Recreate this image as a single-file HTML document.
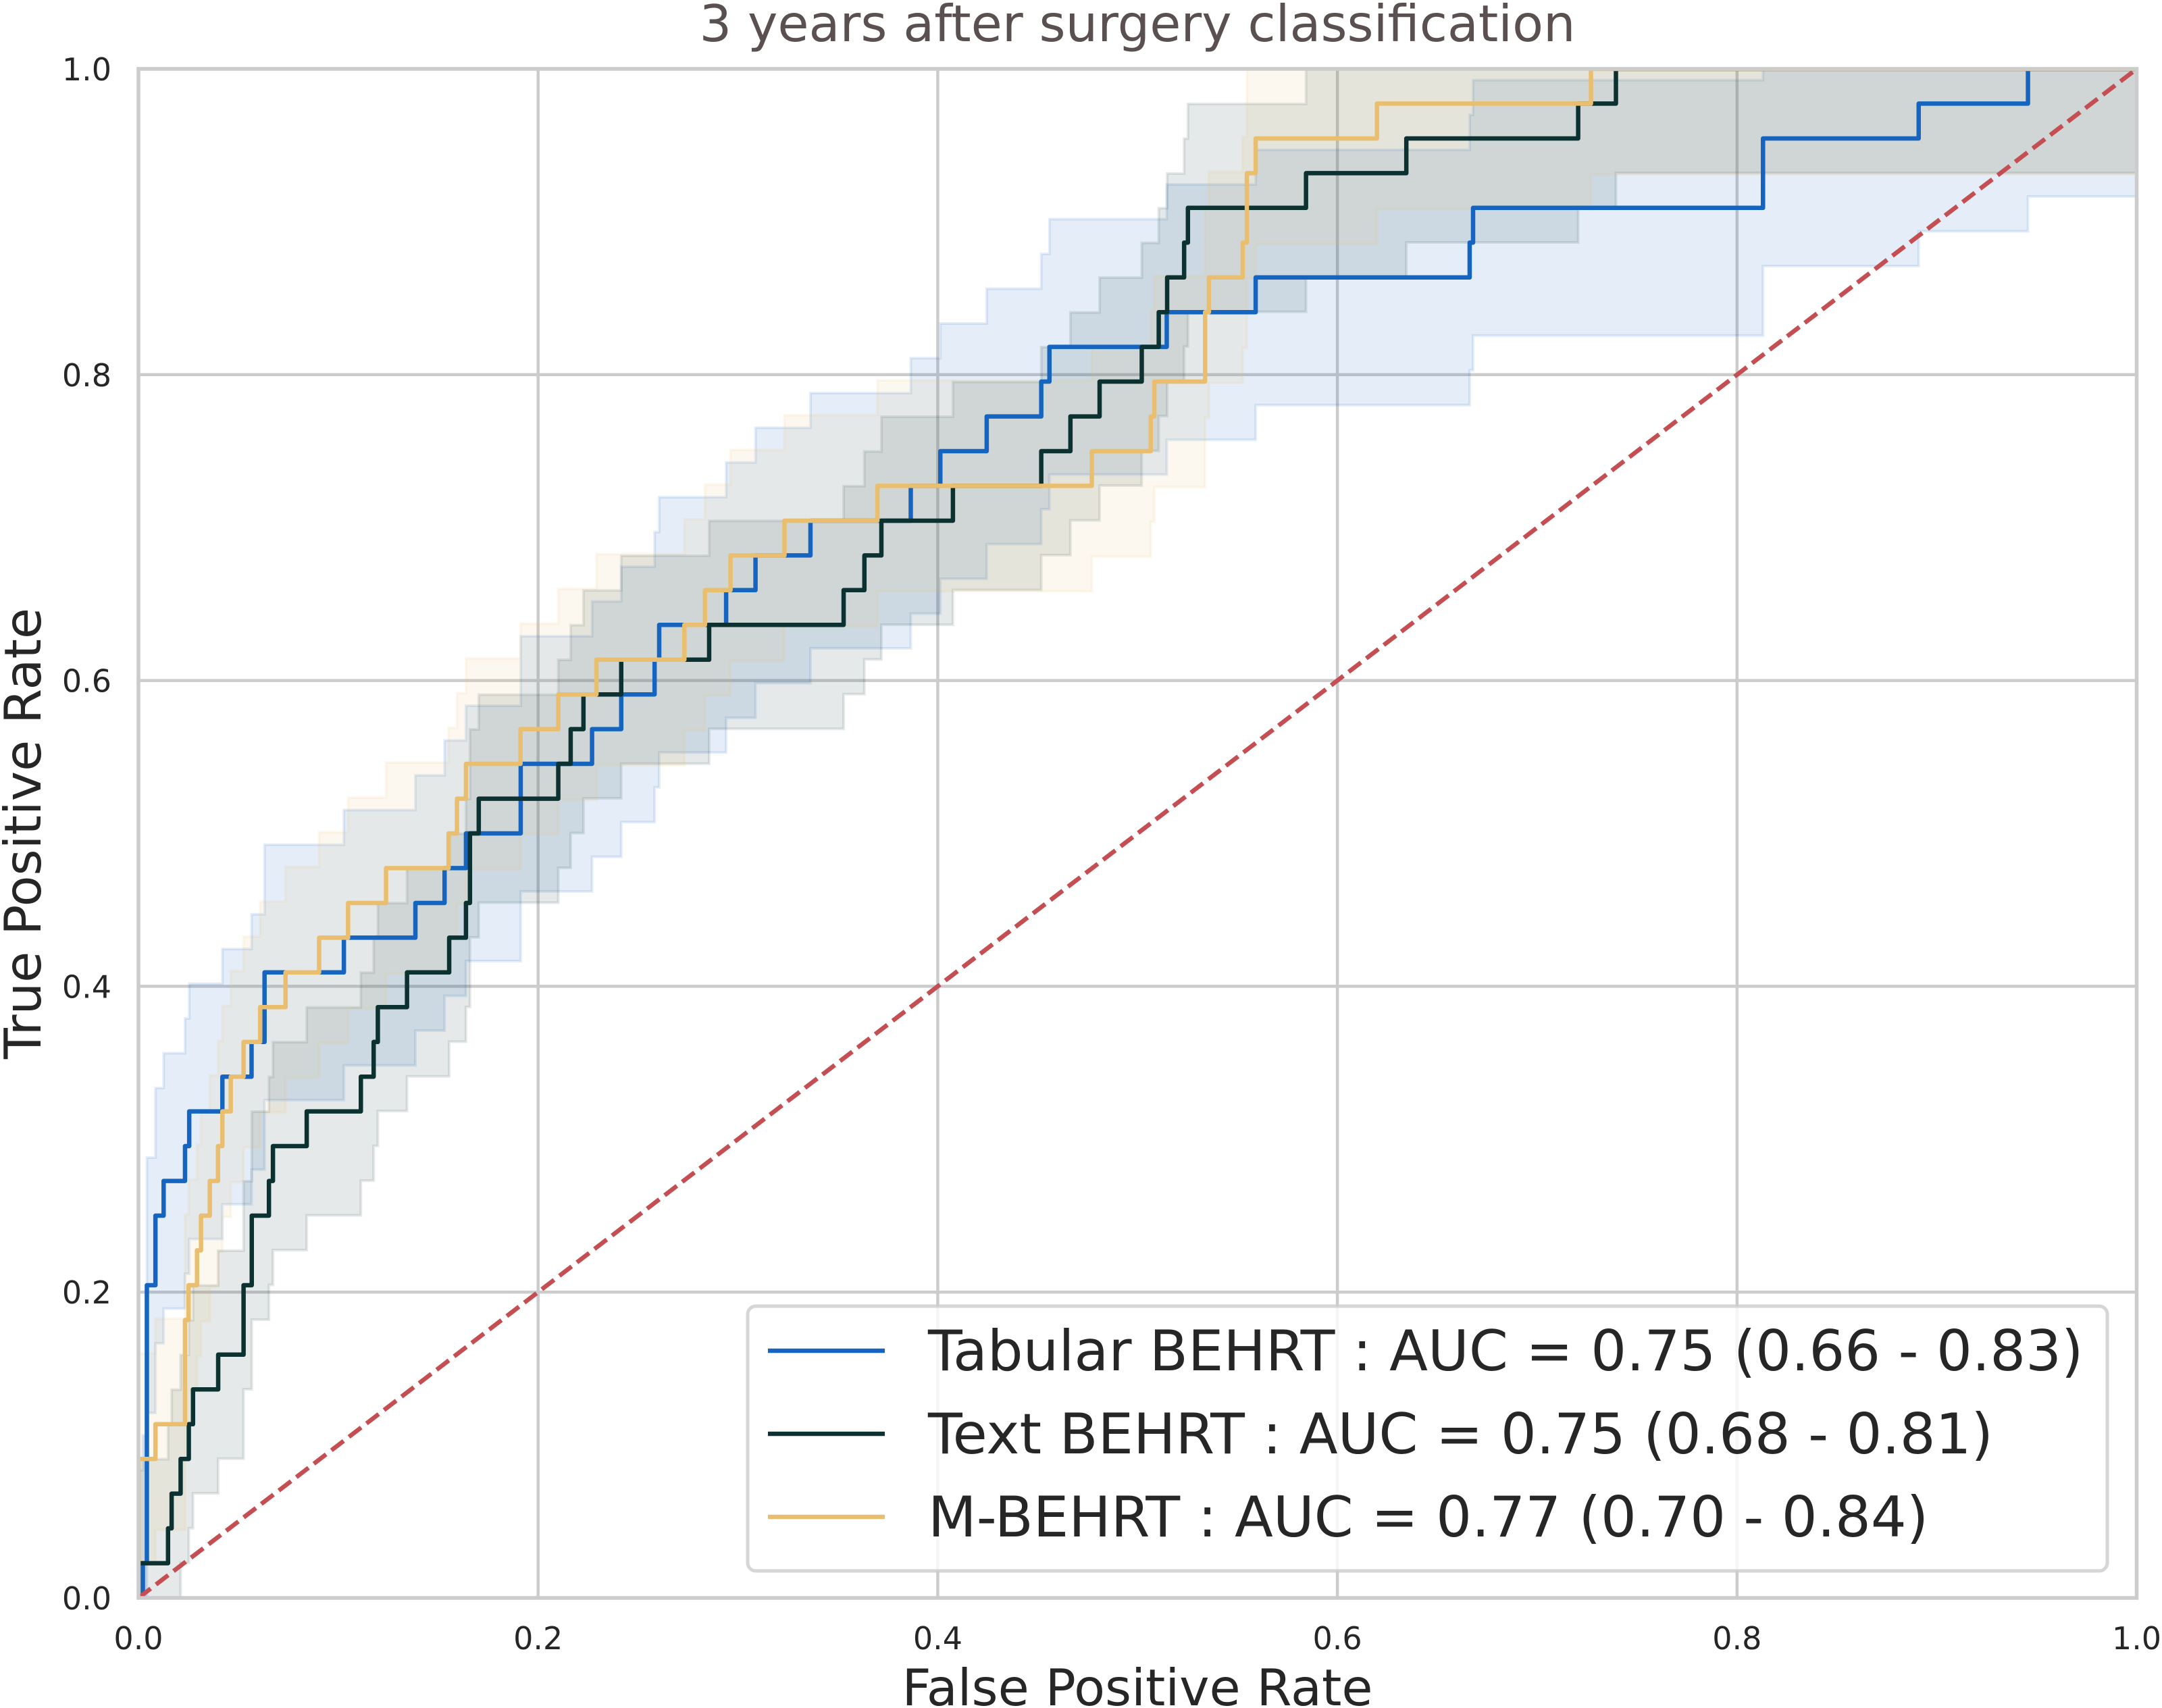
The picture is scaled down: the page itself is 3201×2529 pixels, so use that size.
<!DOCTYPE html>
<html lang="en">
<head>
<meta charset="utf-8">
<title>3 years after surgery classification</title>
<style>
html,body{margin:0;padding:0;background:#fff;}
svg{display:block;font-family:"DejaVu Sans","Liberation Sans",sans-serif;}
</style>
</head>
<body>
<svg id="chart" xmlns="http://www.w3.org/2000/svg" width="3201" height="2529" viewBox="0 0 3201 2529">
  <defs>
    <clipPath id="plot-clip"><rect x="205" y="102" width="2958.5" height="2264"/></clipPath>
  </defs>
  <rect x="0" y="0" width="3201" height="2529" fill="#ffffff"/>
  <text x="1684" y="61" text-anchor="middle" font-size="75" fill="#5a5050">3 years after surgery classification</text>
  <g id="grid-layer"></g>
  <g id="band-layer" clip-path="url(#plot-clip)"></g>
  <g id="line-layer" clip-path="url(#plot-clip)"></g>
  <g id="spine-layer">
    <rect x="205" y="102" width="2958.5" height="2264" fill="none" stroke="#cccccc" stroke-width="5.5"/>
  </g>
  <g id="tick-layer"></g>
  <text x="1684" y="2525" text-anchor="middle" font-size="75" fill="#262626">False Positive Rate</text>
  <text transform="translate(60 1234) rotate(-90)" text-anchor="middle" font-size="75" fill="#262626">True Positive Rate</text>
  <g>
    <rect x="1107" y="1934" width="2013" height="392" rx="12" ry="12" fill="#ffffff" fill-opacity="0.8" stroke="#cccccc" stroke-opacity="0.8" stroke-width="5"/>
    <line x1="1137" y1="2000" x2="1310" y2="2000" stroke="#1565c0" stroke-width="6.5"/>
    <text x="1374" y="2029" font-size="83.1" fill="#262626">Tabular BEHRT : AUC = 0.75 (0.66 - 0.83)</text>
    <line x1="1137" y1="2123" x2="1310" y2="2123" stroke="#0b3130" stroke-width="6.5"/>
    <text x="1374" y="2152" font-size="83.1" fill="#262626">Text BEHRT : AUC = 0.75 (0.68 - 0.81)</text>
    <line x1="1137" y1="2246" x2="1310" y2="2246" stroke="#e9bf6f" stroke-width="6.5"/>
    <text x="1374" y="2275" font-size="83.1" fill="#262626">M-BEHRT : AUC = 0.77 (0.70 - 0.84)</text>
  </g>
</svg>
<script>
const xTicks = [0, 0.2, 0.4, 0.6, 0.8, 1.0];
const yTicks = [0, 0.2, 0.4, 0.6, 0.8, 1.0];
const chanceFpr = [0, 1];
const chanceTpr = [0, 1];

const tabularFpr = [0,0.0022,0.0042,0.0085,0.0126,0.0233,0.0254,0.042,0.0566,0.0631,0.1028,0.1386,0.1532,0.1639,0.1913,0.227,0.2416,0.2583,0.2606,0.2941,0.3088,0.3363,0.3865,0.4013,0.4245,0.4518,0.4559,0.5146,0.5591,0.6662,0.6679,0.813,0.8909,0.9456,1];
const tabularTpr = [0,0.0227,0.2045,0.25,0.2727,0.2955,0.3182,0.3409,0.3636,0.4091,0.4318,0.4545,0.4773,0.5,0.5455,0.5682,0.5909,0.6136,0.6364,0.6591,0.6818,0.7045,0.7273,0.75,0.7727,0.7955,0.8182,0.8409,0.8636,0.8864,0.9091,0.9545,0.9773,1,1];
const tabularBandHalfWidth = 0.0835;

const textFpr = [0,0,0.0148,0.0166,0.0211,0.0252,0.0273,0.0399,0.0526,0.0567,0.0653,0.0673,0.0842,0.1113,0.1177,0.1198,0.1344,0.1555,0.1639,0.1659,0.1703,0.2101,0.2163,0.2227,0.2416,0.2856,0.3529,0.3633,0.3718,0.4076,0.4518,0.4664,0.481,0.5021,0.5106,0.5148,0.5233,0.5252,0.5843,0.6345,0.7205,0.7394,1];
const textTpr = [0,0.0227,0.0455,0.0682,0.0909,0.1136,0.1364,0.1591,0.2045,0.25,0.2727,0.2955,0.3182,0.3409,0.3636,0.3864,0.4091,0.4318,0.4545,0.5,0.5227,0.5455,0.5682,0.5909,0.6136,0.6364,0.6591,0.6818,0.7045,0.7273,0.75,0.7727,0.7955,0.8182,0.8409,0.8636,0.8864,0.9091,0.9318,0.9545,0.9773,1,1];
const textBandHalfWidth = 0.068;

const mBehrtFpr = [0,0,0.0085,0.0233,0.0251,0.0293,0.0313,0.0357,0.0398,0.042,0.0462,0.0526,0.0609,0.0736,0.0904,0.1049,0.1239,0.1552,0.1594,0.1639,0.1912,0.2101,0.2292,0.2732,0.2835,0.2963,0.3233,0.3698,0.4771,0.5066,0.5084,0.5338,0.5357,0.5526,0.5547,0.5591,0.6198,0.7269,1];
const mBehrtTpr = [0,0.0909,0.1136,0.1818,0.2045,0.2273,0.25,0.2727,0.2955,0.3182,0.3409,0.3636,0.3864,0.4091,0.4318,0.4545,0.4773,0.5,0.5227,0.5455,0.5682,0.5909,0.6136,0.6364,0.6591,0.6818,0.7045,0.7273,0.75,0.7727,0.7955,0.8409,0.8636,0.8864,0.9318,0.9545,0.9773,1,1];
const mBehrtBandHalfWidth = 0.069;

const NS = 'http://www.w3.org/2000/svg';
const PLOT = {left: 205, right: 3163.5, top: 102, bottom: 2366};
function xScale(v) { return PLOT.left + v * (PLOT.right - PLOT.left); }
function yScale(v) { return PLOT.bottom - v * (PLOT.bottom - PLOT.top); }
function clamp01(v) { return Math.max(0, Math.min(1, v)); }

function stepLine(fpr, tpr) {
  let d = 'M' + xScale(fpr[0]).toFixed(2) + ' ' + yScale(0).toFixed(2);
  for (let i = 0; i < fpr.length; i++) {
    d += 'H' + xScale(fpr[i]).toFixed(2) + 'V' + yScale(tpr[i]).toFixed(2);
  }
  return d;
}
function bandPath(fpr, tpr, halfWidth) {
  const last = fpr.length - 1;
  let d = 'M' + xScale(fpr[0]).toFixed(2) + ' ' + yScale(clamp01(tpr[0] + halfWidth)).toFixed(2);
  for (let i = 1; i <= last; i++) {
    d += 'H' + xScale(fpr[i]).toFixed(2) + 'V' + yScale(clamp01(tpr[i] + halfWidth)).toFixed(2);
  }
  d += 'V' + yScale(clamp01(tpr[last] - halfWidth)).toFixed(2);
  for (let i = last; i >= 1; i--) {
    d += 'V' + yScale(clamp01(tpr[i - 1] - halfWidth)).toFixed(2) + 'H' + xScale(fpr[i - 1]).toFixed(2);
  }
  d += 'Z';
  return d;
}

const gridLayer = document.getElementById('grid-layer');
xTicks.forEach(function (t) {
  if (t === 0 || t === 1) return;
  const el = document.createElementNS(NS, 'line');
  
  
  el.setAttribute('x1', xScale(t));
  el.setAttribute('x2', xScale(t));
  el.setAttribute('y1', PLOT.top);
  el.setAttribute('y2', PLOT.bottom);
  el.setAttribute('stroke', '#cccccc');
  el.setAttribute('stroke-width', '4.5');
  gridLayer.appendChild(el);
});
yTicks.forEach(function (t) {
  if (t === 0 || t === 1) return;
  const el = document.createElementNS(NS, 'line');
  
  
  el.setAttribute('x1', PLOT.left);
  el.setAttribute('x2', PLOT.right);
  el.setAttribute('y1', yScale(t));
  el.setAttribute('y2', yScale(t));
  el.setAttribute('stroke', '#cccccc');
  el.setAttribute('stroke-width', '4.5');
  gridLayer.appendChild(el);
});

const bandLayer = document.getElementById('band-layer');
const tabularBand = document.createElementNS(NS, 'path');


tabularBand.setAttribute('d', bandPath(tabularFpr, tabularTpr, tabularBandHalfWidth));
tabularBand.setAttribute('fill', '#1565c0');
tabularBand.setAttribute('fill-opacity', '0.115');
tabularBand.setAttribute('stroke', '#1565c0');
tabularBand.setAttribute('stroke-opacity', '0.115');
tabularBand.setAttribute('stroke-width', '4');
bandLayer.appendChild(tabularBand);

const textBand = document.createElementNS(NS, 'path');


textBand.setAttribute('d', bandPath(textFpr, textTpr, textBandHalfWidth));
textBand.setAttribute('fill', '#0b3130');
textBand.setAttribute('fill-opacity', '0.105');
textBand.setAttribute('stroke', '#0b3130');
textBand.setAttribute('stroke-opacity', '0.105');
textBand.setAttribute('stroke-width', '4');
bandLayer.appendChild(textBand);

const mBehrtBand = document.createElementNS(NS, 'path');


mBehrtBand.setAttribute('d', bandPath(mBehrtFpr, mBehrtTpr, mBehrtBandHalfWidth));
mBehrtBand.setAttribute('fill', '#e9bf6f');
mBehrtBand.setAttribute('fill-opacity', '0.11');
mBehrtBand.setAttribute('stroke', '#e9bf6f');
mBehrtBand.setAttribute('stroke-opacity', '0.11');
mBehrtBand.setAttribute('stroke-width', '4');
bandLayer.appendChild(mBehrtBand);

const lineLayer = document.getElementById('line-layer');
const tabularLine = document.createElementNS(NS, 'path');


tabularLine.setAttribute('d', stepLine(tabularFpr, tabularTpr));
tabularLine.setAttribute('fill', 'none');
tabularLine.setAttribute('stroke', '#1565c0');
tabularLine.setAttribute('stroke-width', '6.5');
tabularLine.setAttribute('stroke-linejoin', 'round');
lineLayer.appendChild(tabularLine);

const textLine = document.createElementNS(NS, 'path');


textLine.setAttribute('d', stepLine(textFpr, textTpr));
textLine.setAttribute('fill', 'none');
textLine.setAttribute('stroke', '#0b3130');
textLine.setAttribute('stroke-width', '6.5');
textLine.setAttribute('stroke-linejoin', 'round');
lineLayer.appendChild(textLine);

const mBehrtLine = document.createElementNS(NS, 'path');


mBehrtLine.setAttribute('d', stepLine(mBehrtFpr, mBehrtTpr));
mBehrtLine.setAttribute('fill', 'none');
mBehrtLine.setAttribute('stroke', '#e9bf6f');
mBehrtLine.setAttribute('stroke-width', '6.5');
mBehrtLine.setAttribute('stroke-linejoin', 'round');
lineLayer.appendChild(mBehrtLine);

const chanceLine = document.createElementNS(NS, 'line');


chanceLine.setAttribute('x1', xScale(chanceFpr[0]));
chanceLine.setAttribute('y1', yScale(chanceTpr[0]));
chanceLine.setAttribute('x2', xScale(chanceFpr[1]));
chanceLine.setAttribute('y2', yScale(chanceTpr[1]));
chanceLine.setAttribute('stroke', '#c44e52');
chanceLine.setAttribute('stroke-width', '6.5');
chanceLine.setAttribute('stroke-dasharray', '22.8 9.9');
lineLayer.appendChild(chanceLine);

const tickLayer = document.getElementById('tick-layer');
xTicks.forEach(function (t) {
  const el = document.createElementNS(NS, 'text');
  
  
  el.setAttribute('x', xScale(t));
  el.setAttribute('y', 2442);
  el.setAttribute('text-anchor', 'middle');
  el.setAttribute('font-size', '46');
  el.setAttribute('fill', '#262626');
  el.textContent = t.toFixed(1);
  tickLayer.appendChild(el);
});
yTicks.forEach(function (t) {
  const el = document.createElementNS(NS, 'text');
  
  
  el.setAttribute('x', 165);
  el.setAttribute('y', yScale(t) + 17);
  el.setAttribute('text-anchor', 'end');
  el.setAttribute('font-size', '46');
  el.setAttribute('fill', '#262626');
  el.textContent = t.toFixed(1);
  tickLayer.appendChild(el);
});
</script>
</body>
</html>
